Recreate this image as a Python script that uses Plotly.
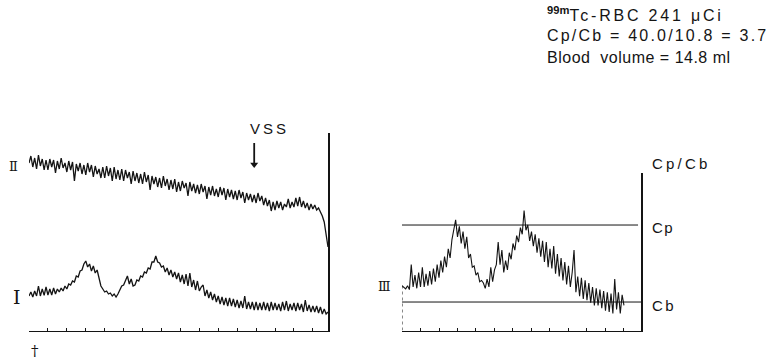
import plotly.graph_objects as go

W, H = 780, 364

# ---------------- data ----------------
# Left panel: time-activity curves, sampled every 0.1 min (arbitrary count units)
step_left = 0.1
trace_I = [
    17.5, 19.5, 17.0, 20.0, 17.5, 22.5, 17.5, 21.0, 17.8, 22.0,
    18.0, 21.0, 18.0, 21.5, 18.5, 21.0, 19.5, 21.5, 20.0, 22.5,
    21.0, 23.5, 23.0, 25.0, 24.5, 27.5, 27.0, 30.0, 30.5, 33.5,
    35.0, 32.0, 33.5, 30.0, 32.5, 29.0, 30.5, 25.5, 22.5, 21.0,
    19.5, 20.0, 18.5, 19.0, 17.5, 18.5, 17.0, 18.5, 20.5, 22.5,
    23.0, 25.0, 27.5, 23.5, 26.0, 22.5, 23.0, 25.5, 25.0, 27.5,
    27.0, 29.5, 29.0, 31.5, 31.0, 34.5, 34.5, 37.5, 34.5, 34.0,
    32.0, 32.5, 29.5, 31.5, 28.0, 30.5, 27.0, 29.5, 26.0, 29.0,
    24.5, 28.0, 23.5, 28.5, 22.5, 29.0, 22.0, 25.5, 20.5, 25.0,
    20.0, 22.0, 23.0, 17.5, 20.5, 16.5, 19.5, 15.5, 18.5, 14.5,
    17.5, 13.5, 17.0, 13.0, 16.5, 12.5, 16.5, 12.5, 16.0, 12.0,
    15.5, 11.5, 15.0, 11.5, 17.5, 11.0, 14.5, 11.0, 14.5, 10.5,
    14.5, 10.5, 14.0, 10.5, 14.5, 10.5, 14.0, 10.0, 14.5, 10.5,
    14.0, 10.5, 13.5, 10.0, 14.5, 10.5, 15.0, 10.0, 13.5, 10.5,
    14.0, 10.0, 14.0, 10.5, 13.5, 9.5, 15.5, 10.0, 13.0, 9.5,
    12.5, 9.5, 12.5, 9.0, 12.0, 8.5, 11.0, 8.5, 9.5,
]
trace_II = [
    84.0, 87.5, 82.0, 86.5, 81.0, 88.0, 82.5, 86.0, 80.5, 85.5,
    80.5, 86.0, 82.0, 85.5, 79.0, 85.0, 81.0, 86.5, 81.5, 84.0,
    79.5, 85.0, 80.5, 84.5, 75.0, 83.5, 80.0, 84.0, 78.5, 83.0,
    78.0, 84.0, 79.5, 83.0, 77.0, 82.5, 78.5, 81.0, 76.5, 82.0,
    76.5, 82.5, 77.5, 81.5, 75.0, 82.0, 76.0, 80.5, 75.5, 81.0,
    75.0, 80.5, 76.5, 79.5, 73.5, 80.0, 75.0, 79.0, 74.0, 78.5,
    73.5, 79.5, 74.5, 78.0, 70.5, 77.5, 73.5, 77.0, 72.0, 76.5,
    71.5, 77.5, 72.5, 76.0, 70.5, 75.5, 71.0, 76.0, 69.5, 74.5,
    70.0, 75.0, 71.5, 74.0, 67.5, 74.5, 70.0, 73.5, 69.0, 73.0,
    68.5, 73.5, 69.5, 72.5, 66.0, 72.0, 68.0, 72.5, 67.5, 71.0,
    67.0, 72.0, 68.0, 71.5, 65.5, 71.0, 67.0, 70.5, 66.0, 70.0,
    65.5, 70.5, 66.5, 69.5, 64.0, 69.0, 65.5, 68.5, 64.5, 68.0,
    64.0, 69.0, 65.0, 67.5, 63.0, 66.5, 62.5, 65.5, 60.0, 64.5,
    60.5, 65.0, 61.5, 64.5, 60.5, 63.5, 62.0, 66.0, 61.5, 64.5,
    62.0, 66.5, 62.5, 67.0, 62.0, 65.0, 61.5, 64.0, 60.5, 63.5,
    61.0, 63.0, 60.5, 61.5, 59.5, 57.5, 54.5, 48.0, 42.0,
]

# Right panel: curve III, sampled every 0.1 min (counts)
step_right = 0.1
trace_III = [
    17.0, 16.2, 15.8, 17.0, 15.5, 25.0, 16.5, 21.0, 16.0, 22.0,
    16.5, 24.0, 16.5, 21.5, 17.0, 22.5, 17.5, 23.5, 18.5, 25.0,
    20.0, 26.5, 22.0, 28.0, 24.0, 31.0, 27.5, 34.5, 38.5, 42.0,
    35.5, 39.5, 33.0, 37.5, 31.0, 35.5, 27.5, 29.0, 24.0, 24.5,
    21.0, 22.0, 18.5, 19.0, 18.0, 16.0, 19.5, 16.5, 24.0, 18.5,
    23.0, 25.0, 33.5, 25.0, 30.5, 22.0, 26.5, 23.0, 29.5, 27.0,
    33.0, 30.5, 36.0, 33.5, 39.0, 36.5, 45.5, 38.0, 40.0, 34.0,
    37.5, 32.0, 36.5, 29.5, 35.0, 28.0, 34.0, 26.0, 33.5, 24.0,
    31.0, 23.5, 32.0, 21.5, 29.0, 20.5, 27.5, 19.0, 26.0, 17.5,
    24.5, 16.5, 22.0, 30.5, 14.5, 20.5, 13.0, 20.0, 12.0, 19.0,
    11.5, 18.0, 10.5, 16.5, 9.5, 16.0, 9.5, 15.5, 8.5, 15.0,
    7.5, 14.5, 7.0, 14.0, 6.5, 19.5, 8.0, 14.5, 6.5, 13.5,
    9.5,
]

Cp = 40.0          # peak counts
Cb = 10.8          # background counts
dose_uCi = 241
blood_volume_ml = 14.8
vss_time = 11.9    # min, VSS event on curve II
vss_arrow = [94.0, 81.5]   # arrow tail / tip level on the left count scale
left_tmax = 15.8
right_tmax = 12.92
left_ymax = 99.0
right_ymax = 59.73

t_left = [round(i * step_left, 2) for i in range(len(trace_I))]
t_right = [round(i * step_right, 2) for i in range(len(trace_III))]

# ---------------- figure ----------------
INK = "#141414"
SANS = "Liberation Sans, Arial, sans-serif"
SERIF = "DejaVu Serif, Liberation Serif, serif"


def px(x):
    return x / W


def py(y):
    return 1 - y / H


def spaced(text, ls):
    return f'<span style="letter-spacing:{ls}px">{text}</span>'


fig = go.Figure()
fig.add_trace(go.Scatter(x=t_left, y=trace_II, mode="lines",
                         line=dict(color=INK, width=1.3), xaxis="x", yaxis="y",
                         showlegend=False, hoverinfo="skip"))
fig.add_trace(go.Scatter(x=t_left, y=trace_I, mode="lines",
                         line=dict(color=INK, width=1.3), xaxis="x", yaxis="y",
                         showlegend=False, hoverinfo="skip"))
fig.add_trace(go.Scatter(x=t_right, y=trace_III, mode="lines",
                         line=dict(color=INK, width=1.1), xaxis="x2", yaxis="y2",
                         showlegend=False, hoverinfo="skip"))
# VSS marker arrow (shaft + head)
fig.add_trace(go.Scatter(x=[vss_time, vss_time], y=[vss_arrow[0], vss_arrow[1] + 2],
                         mode="lines", line=dict(color=INK, width=1.8),
                         xaxis="x", yaxis="y", showlegend=False, hoverinfo="skip",
                         cliponaxis=False))
fig.add_trace(go.Scatter(x=[vss_time], y=[vss_arrow[1] + 1.8], mode="markers",
                         marker=dict(symbol="triangle-down", size=7, color=INK),
                         xaxis="x", yaxis="y", showlegend=False, hoverinfo="skip",
                         cliponaxis=False))

common_x = dict(showgrid=False, zeroline=False, showticklabels=False,
                showline=True, linecolor=INK, linewidth=1.3,
                ticks="inside", ticklen=3, tickwidth=1, tickcolor=INK,
                tick0=0, dtick=1)
common_y = dict(showgrid=False, zeroline=False, showticklabels=False,
                showline=True, linecolor=INK, linewidth=1.6, ticks="",
                side="right")

fig.update_layout(
    width=W, height=H,
    margin=dict(l=0, r=0, t=0, b=0),
    paper_bgcolor="white", plot_bgcolor="white",
    xaxis=dict(domain=[px(29), px(328)], range=[0, left_tmax], anchor="y", **common_x),
    yaxis=dict(domain=[(H - 331) / H, (H - 133) / H], range=[0, left_ymax], anchor="x", **common_y),
    xaxis2=dict(domain=[px(402), px(641)], range=[0, right_tmax], anchor="y2", **common_x),
    yaxis2=dict(domain=[(H - 330.5) / H, (H - 173) / H], range=[0, right_ymax], anchor="x2", **common_y),
)

# Cp / Cb reference lines and start marker in the right panel
fig.add_shape(type="line", xref="x2", yref="y2", x0=-0.16, x1=12.76, y0=Cp, y1=Cp,
              line=dict(color=INK, width=1))
fig.add_shape(type="line", xref="x2", yref="y2", x0=0, x1=right_tmax, y0=Cb, y1=Cb,
              line=dict(color=INK, width=1))
fig.add_shape(type="line", xref="x2", yref="y2", x0=0, x1=0, y0=0, y1=trace_III[0],
              line=dict(color=INK, width=1, dash="dot"))


def ann(text, x, y, size, family=SANS, xanchor="left"):
    fig.add_annotation(text=text, x=px(x), y=py(y), xref="paper", yref="paper",
                       xanchor=xanchor, yanchor="middle", showarrow=False,
                       font=dict(family=family, size=size, color=INK))


# header text
ann("<sup><b>99m</b></sup>" + spaced(f"Tc-RBC {dose_uCi} μCi", 2.8), 545, 14, 16)
ann(spaced(f"Cp/Cb = {Cp:.1f}/{Cb:.1f} = {Cp / Cb:.1f}", 2.2), 545, 35, 16)
ann(spaced(f"Blood  volume = {blood_volume_ml:.1f} ml", 0.5), 545, 57, 16)

# right panel labels
ann(spaced("Cp/Cb", 3.2), 650, 163, 15)
ann(spaced("Cp", 1.5), 650, 227, 15)
ann(spaced("Cb", 2.5), 650, 305, 15)
ann("Ⅲ", 384.5, 286, 13, family=SERIF, xanchor="center")

# left panel labels
ann("Ⅱ", 13.5, 166.5, 13, family=SERIF, xanchor="center")
ann("Ⅰ", 16.5, 296.5, 19, family=SERIF, xanchor="center")
ann("†", 35, 351, 15, family=SERIF, xanchor="center")
ann(spaced("VSS", 3.0), 248, 128, 15)

fig.write_html("out.html",
               config={"displayModeBar": False, "staticPlot": True},
               post_script="document.body.style.margin='0';"
                           "document.body.style.overflow='hidden';")
